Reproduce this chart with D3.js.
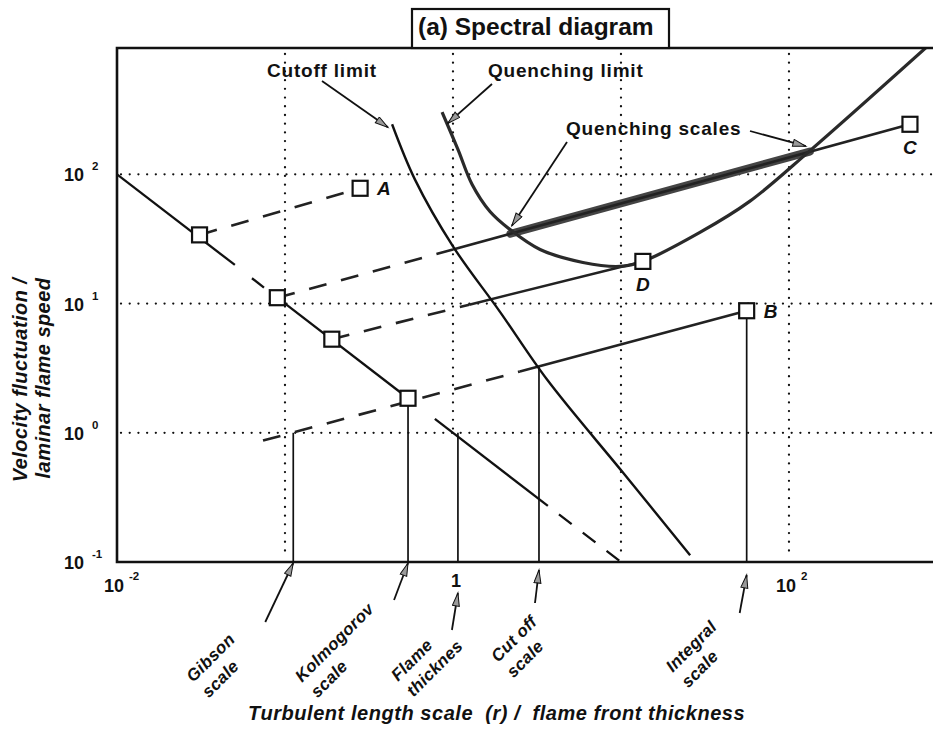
<!DOCTYPE html>
<html><head><meta charset="utf-8">
<script src="https://cdn.jsdelivr.net/npm/d3@7"></script>
<style>
body{margin:0;background:#fff}
svg text{font-family:"Liberation Sans",Arial,Helvetica,sans-serif;font-weight:bold;fill:#111}
</style></head><body>
<svg id="chart" width="933" height="734"></svg>
<script>
// ---- axis ticks ----
const xTickExps = [-2, 0, 2];          // 10^-2, 1, 10^2 labelled on the length axis
const yTickExps = [2, 1, 0, -1];        // 10^2 ... 10^-1 on the velocity axis
const xGridValues = [0.1, 1, 10, 100];
const yGridValues = [1, 10, 100];

// ---- Kolmogorov spectrum u'/S_L vs r/δ (slope -1), drawn in pieces ----
const spectrumSolid = [
  [[0.01, 100], [0.0503, 19.9]],
  [[0.0636, 15.7], [0.075, 13.3]],
  [[0.09, 11.1], [0.54, 1.85]],
  [[0.78, 1.28], [3.67, 0.272]]
];
const spectrumDashed = [[[3.67, 0.272], [10, 0.1]]];

// ---- spectra of individual flames (u' ~ r^(1/3)) ----
const flameDashed = [
  [[0.031, 34], [0.28, 78]],      // to A
  [[0.09, 11.1], [1.0, 26.2]],    // to C
  [[0.19, 5.3], [1.25, 9.8]],     // to D
  [[0.074, 0.87], [2.5, 2.98]]    // to B
];
const flameSolid = [
  [[1.0, 26.2], [525, 244]],
  [[1.25, 9.8], [13.5, 21.2]],
  [[2.5, 2.98], [56, 8.8]]
];
const quenchingBand = [[2.2, 34.7], [133, 150]];

// ---- limit curves ----
const cutoffLimit = [[0.434, 244], [0.594, 91], [1.0, 27.7], [1.9, 8.67], [3.63, 2.58], [10.3, 0.49], [25.8, 0.113]];
const quenchingLimit = [[0.861, 303], [1.07, 156], [1.30, 83.5], [1.66, 51.6], [2.18, 37.5], [3.30, 26.2],
  [5.94, 20.8], [9.86, 19.4], [13.5, 21.2], [29.5, 35.5], [58.6, 62], [133, 152], [690, 1018]];

// ---- marked points ----
const spectrumSquares = [[0.031, 34], [0.09, 11.1], [0.19, 5.3], [0.54, 1.85]];
const endSquares = [
  {name: "A", x: 0.28, y: 78, pos: "right"},
  {name: "B", x: 56, y: 8.8, pos: "right"},
  {name: "C", x: 525, y: 244, pos: "below"},
  {name: "D", x: 13.5, y: 21.2, pos: "below"}
];

// ---- characteristic scales (vertical markers) ----
const scaleNames = [["Gibson", "scale"], ["Kolmogorov", "scale"], ["Flame", "thicknes"], ["Cut off", "scale"], ["Integral", "scale"]];
const scaleX = [0.112, 0.54, 1.07, 3.25, 56];
const scaleTopY = [1.0, 1.85, 1.0, 3.25, 8.8];

// ---- layout ----
const svg = d3.select("#chart");
const pLeft = 117, pRight = 935, pTop = 48, pBottom = 562;
const x = d3.scaleLog().domain([0.01, 740]).range([pLeft, pRight]);
const y = d3.scaleLog().domain([0.1, 950]).range([pBottom, pTop]);

const defs = svg.append("defs");
defs.append("clipPath").attr("id", "plotClip")
  .append("rect").attr("x", pLeft).attr("y", pTop).attr("width", pRight - pLeft).attr("height", pBottom - pTop);
defs.append("marker").attr("id", "head")
  .attr("markerUnits", "userSpaceOnUse").attr("markerWidth", 16).attr("markerHeight", 10)
  .attr("refX", 14).attr("refY", 4).attr("orient", "auto")
  .append("path").attr("d", "M1,0.5 L14,4 L1,7.5 Z")
  .attr("fill", "#9a9a9a").attr("stroke", "#111").attr("stroke-width", 1);

// gridlines (dotted)
const grid = svg.append("g").attr("stroke", "#111").attr("stroke-width", 2.3)
  .attr("stroke-linecap", "round").attr("stroke-dasharray", "0.01,8.7");
grid.selectAll("line.h").data(yGridValues).join("line").attr("class", "h")
  .attr("x1", pLeft + 4).attr("x2", pRight).attr("y1", d => y(d)).attr("y2", d => y(d));
grid.selectAll("line.v").data(xGridValues).join("line").attr("class", "v")
  .attr("x1", d => x(d)).attr("x2", d => x(d)).attr("y1", pTop + 6)
  .attr("y2", d => d === 1 ? y(1) : pBottom - 6);

const plot = svg.append("g").attr("clip-path", "url(#plotClip)");
const line = d3.line().x(d => x(d[0])).y(d => y(d[1]));
const smooth = d3.line().x(d => x(d[0])).y(d => y(d[1])).curve(d3.curveCatmullRom.alpha(0.5));

// vertical scale markers
plot.selectAll("line.scale").data(scaleX).join("line").attr("class", "scale")
  .attr("x1", d => x(d)).attr("x2", d => x(d))
  .attr("y1", pBottom).attr("y2", (d, i) => y(scaleTopY[i]))
  .attr("stroke", "#111").attr("stroke-width", 1.7);

// quenching scales band
plot.append("path").datum(quenchingBand).attr("d", line)
  .attr("fill", "none").attr("stroke", "#444").attr("stroke-width", 8).attr("stroke-linecap", "round");

// flame spectra
plot.selectAll("path.fd").data(flameDashed).join("path").attr("class", "fd").attr("d", line)
  .attr("fill", "none").attr("stroke", "#222").attr("stroke-width", 2.6).attr("stroke-dasharray", "18,15");
plot.selectAll("path.fs").data(flameSolid).join("path").attr("class", "fs").attr("d", line)
  .attr("fill", "none").attr("stroke", "#222").attr("stroke-width", 2.6);

// Kolmogorov spectrum
plot.selectAll("path.ss").data(spectrumSolid).join("path").attr("class", "ss").attr("d", line)
  .attr("fill", "none").attr("stroke", "#111").attr("stroke-width", 2.3);
plot.selectAll("path.sd").data(spectrumDashed).join("path").attr("class", "sd").attr("d", line)
  .attr("fill", "none").attr("stroke", "#111").attr("stroke-width", 2.3).attr("stroke-dasharray", "16,14")
  .attr("stroke-dashoffset", -14);

// limits
plot.append("path").datum(cutoffLimit).attr("d", smooth)
  .attr("fill", "none").attr("stroke", "#111").attr("stroke-width", 2.4);
plot.append("path").datum(quenchingLimit).attr("d", smooth)
  .attr("fill", "none").attr("stroke", "#2a2a2a").attr("stroke-width", 3.2);

// squares
const sq = 15;
svg.selectAll("rect.k").data(spectrumSquares.concat(endSquares.map(d => [d.x, d.y]))).join("rect").attr("class", "k")
  .attr("x", d => x(d[0]) - sq / 2).attr("y", d => y(d[1]) - sq / 2)
  .attr("width", sq).attr("height", sq)
  .attr("fill", "#fff").attr("stroke", "#111").attr("stroke-width", 2.2);
svg.selectAll("text.end").data(endSquares).join("text").attr("class", "end")
  .attr("x", d => d.pos === "right" ? x(d.x) + 17 : x(d.x) - 7)
  .attr("y", d => d.pos === "right" ? y(d.y) + 7 : y(d.y) + 30)
  .attr("font-size", 19).attr("font-style", "italic").text(d => d.name);

// frame
svg.append("path").attr("d", `M${pRight},${pTop}H${pLeft}V${pBottom}H${pRight}`)
  .attr("fill", "none").attr("stroke", "#111").attr("stroke-width", 2.6);

// title
svg.append("rect").attr("x", 412).attr("y", 9).attr("width", 257).attr("height", pTop - 9)
  .attr("fill", "#fff").attr("stroke", "#111").attr("stroke-width", 2.2);
svg.append("text").attr("x", 418).attr("y", 35).attr("font-size", 24.5).text("(a) Spectral diagram");

// y tick labels
const yt = svg.append("g").selectAll("g").data(yTickExps).join("g")
  .attr("transform", d => `translate(0,${y(Math.pow(10, d)) + 7})`);
yt.append("text").attr("x", 84).attr("text-anchor", "end").attr("font-size", 18).text("10");
yt.append("text").attr("x", 92).attr("y", -11).attr("font-size", 11.5).text(d => String(d));

// x tick labels
xTickExps.forEach(e => {
  const cx = x(Math.pow(10, e));
  if (e === 0) {
    svg.append("text").attr("x", cx + 3).attr("y", 587).attr("text-anchor", "middle").attr("font-size", 18).text("1");
  } else {
    svg.append("text").attr("x", cx - 3).attr("y", 592).attr("text-anchor", "middle").attr("font-size", 18).text("10");
    svg.append("text").attr("x", cx + 12).attr("y", 580).attr("font-size", 11.5).text(String(e));
  }
});

// axis titles
svg.append("text").attr("x", 248).attr("y", 720).attr("font-size", 20).attr("font-style", "italic")
  .attr("letter-spacing", 0.55).style("white-space", "pre")
  .text("Turbulent length scale  (r) /  flame front thickness");
[["Velocity fluctuation /", 27, 380], ["laminar flame speed", 50, 378]].forEach(([t, tx, ty]) => {
  svg.append("text").attr("transform", `translate(${tx},${ty}) rotate(-90)`)
    .attr("text-anchor", "middle").attr("font-size", 20).attr("font-style", "italic")
    .attr("letter-spacing", 0.45).text(t);
});

// annotations inside the plot
const arrow = (x1, y1, x2, y2) => svg.append("line")
  .attr("x1", x1).attr("y1", y1).attr("x2", x2).attr("y2", y2)
  .attr("stroke", "#111").attr("stroke-width", 1.8).attr("marker-end", "url(#head)");
const note = (t, tx, ty) => svg.append("text").attr("x", tx).attr("y", ty)
  .attr("font-size", 19).attr("letter-spacing", 0.8).text(t);

note("Cutoff limit", 267, 77);
arrow(322, 81, x(0.41), y(231));
note("Quenching limit", 488, 77);
arrow(492, 84, x(0.93), y(248));
note("Quenching scales", 566, 135);
arrow(750, 131, x(126), y(165));
arrow(567, 142, x(2.24), y(40));

// characteristic-scale arrows and rotated labels below the axis
const tipY = [563, 563, 593, 570, 575];
const tail = [[-28, 59], [-14, 37], [-6, 37], [-4, 33], [-7, 38]];
const labelAt = [[-100, 683], [-106, 683], [-60, 682], [-41, 663], [-74, 673]];
scaleX.forEach((v, i) => {
  const tx = x(v);
  arrow(tx + tail[i][0], tipY[i] + tail[i][1], tx, tipY[i]);
  const g = svg.append("g").attr("transform", `translate(${tx + labelAt[i][0]},${labelAt[i][1]}) rotate(-45)`);
  scaleNames[i].forEach((t, j) => {
    g.append("text").attr("x", 0).attr("y", j * 22).attr("font-size", 17)
      .attr("font-style", "italic").attr("letter-spacing", 0.3).text(t);
  });
});
</script>
</body></html>
